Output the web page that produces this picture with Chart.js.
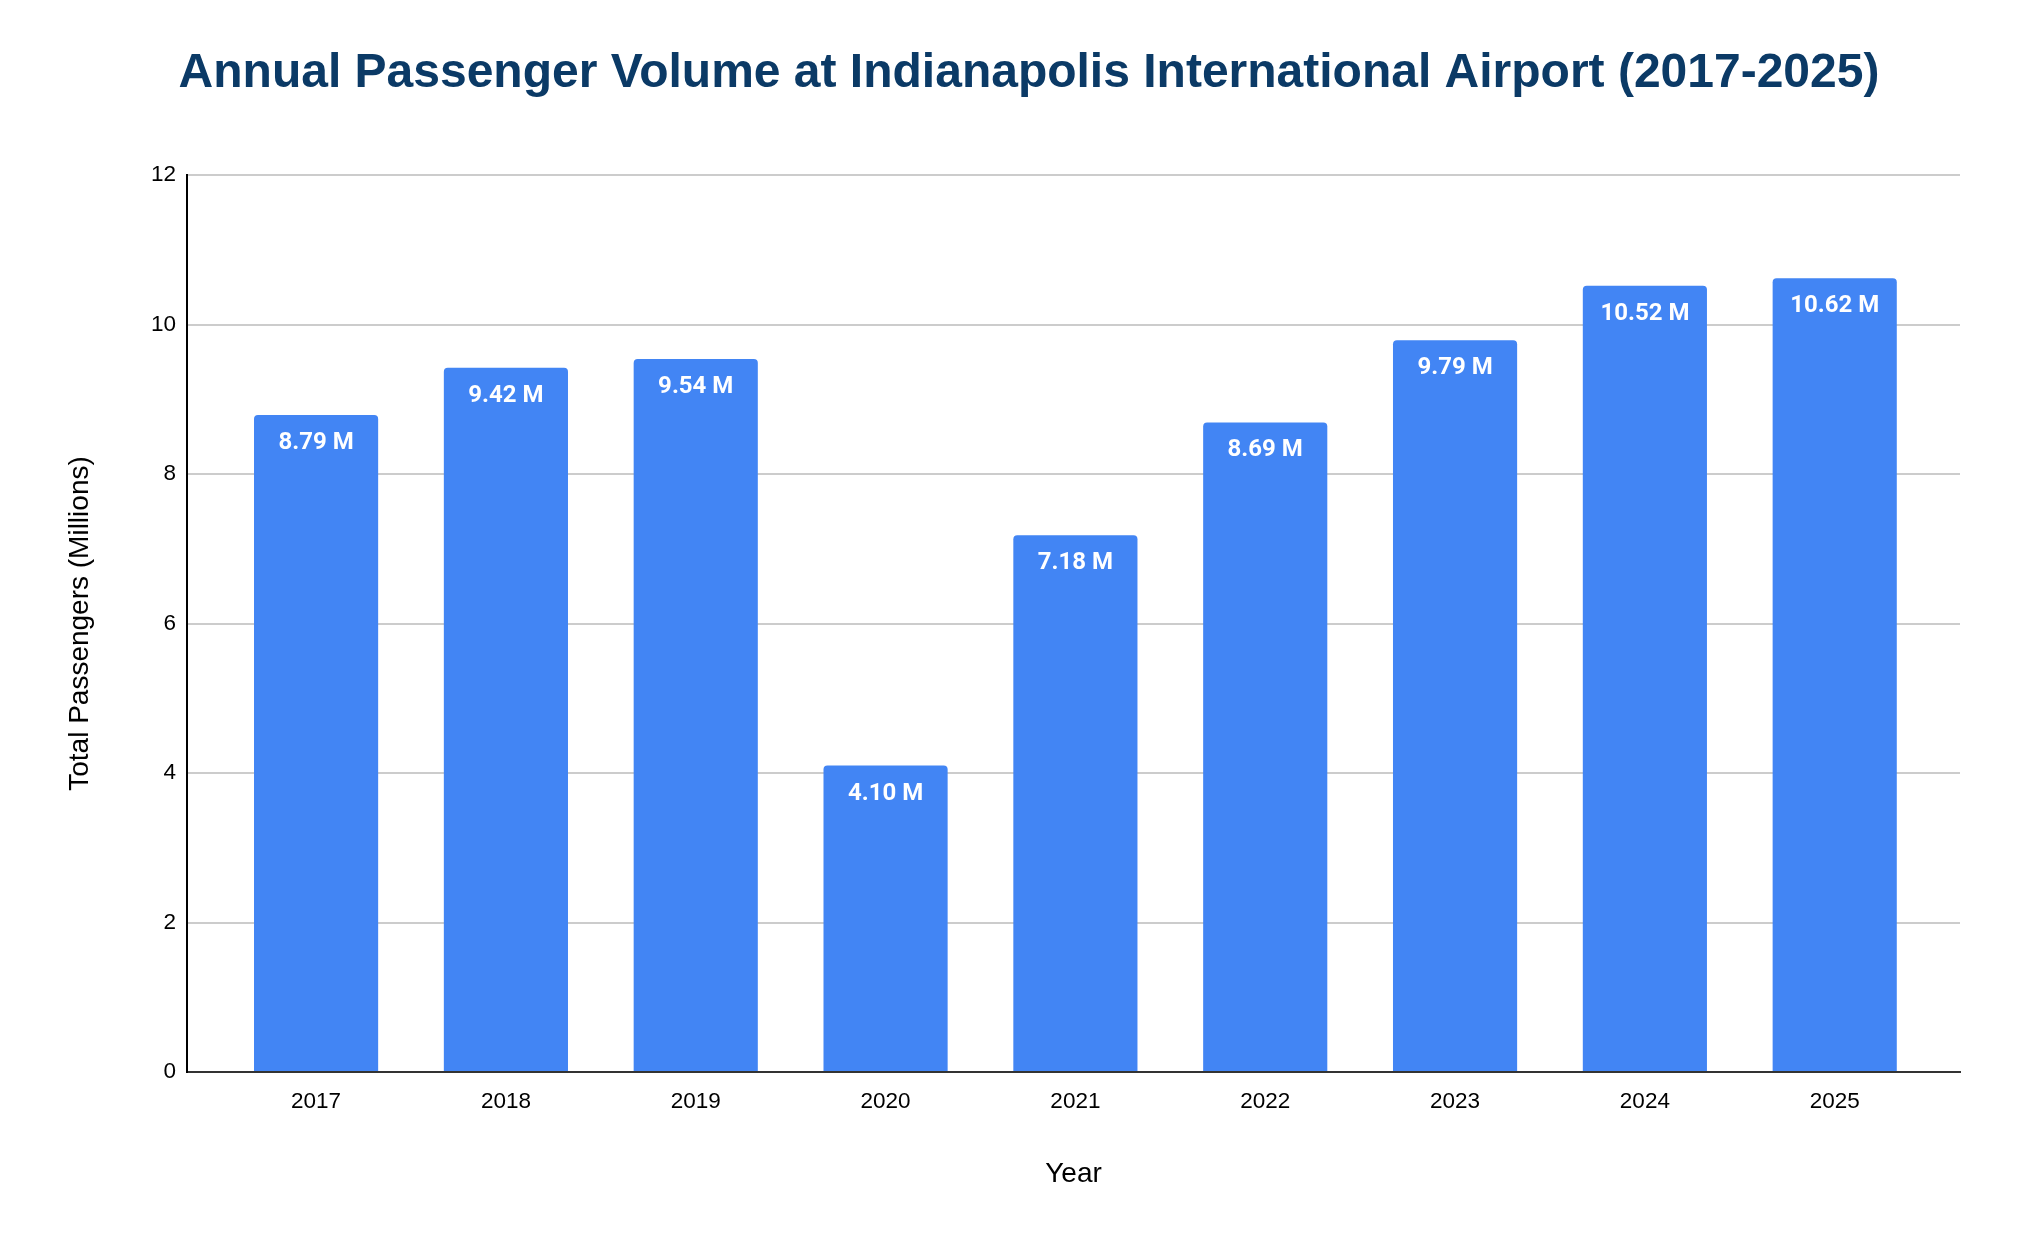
<!DOCTYPE html>
<html>
<head>
<meta charset="utf-8">
<script src="https://cdn.jsdelivr.net/npm/chart.js@4.4.1/dist/chart.umd.min.js"></script>
<style>
  html, body { margin: 0; padding: 0; background: #ffffff; }
  #wrap { width: 2024px; height: 1250px; }
</style>
</head>
<body>
<div id="wrap"><canvas id="c" width="2024" height="1250"></canvas></div>
<script>
const years = ['2017', '2018', '2019', '2020', '2021', '2022', '2023', '2024', '2025'];
const passengers = [8.79, 9.42, 9.54, 4.10, 7.18, 8.69, 9.79, 10.52, 10.62];
const valueLabels = ['8.79 M', '9.42 M', '9.54 M', '4.10 M', '7.18 M', '8.69 M', '9.79 M', '10.52 M', '10.62 M'];
const yTicks = [0, 2, 4, 6, 8, 10, 12];

const titleText = 'Annual Passenger Volume at Indianapolis International Airport (2017-2025)';
const xTitle = 'Year';
const yTitle = 'Total Passengers (Millions)';

const barLabelPlugin = {
  id: 'barLabels',
  afterDatasetsDraw(chart) {
    const ctx = chart.ctx;
    const meta = chart.getDatasetMeta(0);
    ctx.save();
    ctx.fillStyle = '#ffffff';
    ctx.font = 'bold 24px Roboto, "Liberation Sans", Arial, sans-serif';
    ctx.textAlign = 'center';
    ctx.textBaseline = 'alphabetic';
    meta.data.forEach((bar, i) => {
      ctx.fillText(valueLabels[i], bar.x, bar.y + 34);
    });
    ctx.restore();
  }
};

const sans = '"Liberation Sans", Arial, Helvetica, sans-serif';

new Chart(document.getElementById('c'), {
  type: 'bar',
  data: {
    datasets: [{
      data: years.map((y, i) => ({ x: Number(y), y: passengers[i] })),
      backgroundColor: '#4285F4',
      borderWidth: 0,
      borderRadius: { topLeft: 4, topRight: 4, bottomLeft: 0, bottomRight: 0 },
      borderSkipped: 'start',
      categoryPercentage: 1.0,
      barPercentage: 0.654
    }]
  },
  options: {
    responsive: false,
    animation: false,
    devicePixelRatio: 1,
    layout: { padding: { left: 34, right: 0, top: 0, bottom: 0 } },
    plugins: {
      legend: { display: false },
      tooltip: { enabled: false },
      title: {
        display: true,
        text: titleText,
        color: '#0b3a66',
        font: { family: sans, size: 48, weight: 'bold', lineHeight: 1.2 },
        padding: { top: 45, bottom: 72.4 }
      }
    },
    scales: {
      x: {
        type: 'linear',
        position: 'bottom',
        min: 2016.32,
        max: 2025.66,
        offset: false,
        grid: { display: false, drawTicks: false },
        border: { display: true, color: '#333333', width: 2 },
        afterBuildTicks: (scale) => { scale.ticks = years.map(y => ({ value: Number(y) })); },
        ticks: {
          color: '#000000',
          font: { family: sans, size: 22.5 },
          padding: 16,
          autoSkip: false,
          maxRotation: 0,
          callback: (v) => String(v)
        },
        title: {
          display: true,
          text: xTitle,
          color: '#000000',
          font: { family: sans, size: 28, lineHeight: 1.2 },
          padding: { top: 0, bottom: 59.2 }
        },
        afterFit: (scale) => { scale.height = 178; }
      },
      y: {
        position: 'left',
        min: 0,
        max: 12,
        afterBuildTicks: (scale) => { scale.ticks = yTicks.map(v => ({ value: v })); },
        grid: { color: '#cccccc', lineWidth: 2, drawTicks: false },
        border: { display: true, color: '#000000', width: 2 },
        ticks: {
          color: '#000000',
          font: { family: sans, size: 22.5 },
          padding: 11,
          callback: (v) => String(v)
        },
        title: {
          display: true,
          text: yTitle,
          color: '#000000',
          font: { family: sans, size: 28, lineHeight: 1.2 },
          padding: { top: 29.2, bottom: 0 }
        },
        afterFit: (scale) => { scale.width = 153; }
      },
      yRight: {
        position: 'right',
        display: true,
        grid: { display: false, drawTicks: false },
        border: { display: false },
        ticks: { display: false },
        afterFit: (scale) => { scale.width = 64; }
      }
    }
  },
  plugins: [barLabelPlugin]
});
</script>
</body>
</html>
